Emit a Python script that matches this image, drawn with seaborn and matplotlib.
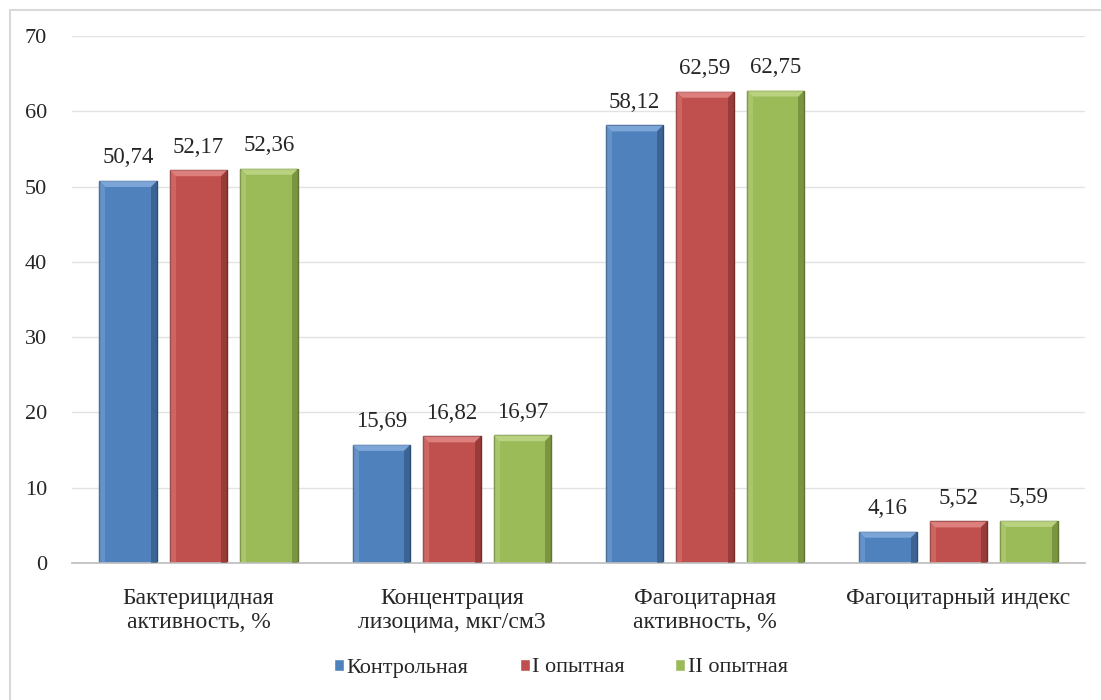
import numpy as np
import pandas as pd
import matplotlib
matplotlib.use("Agg")
import matplotlib.pyplot as plt
import seaborn as sns
from matplotlib.patches import Polygon
from matplotlib.lines import Line2D

categories = ["Бактерицидная\nактивность, %", "Концентрация\nлизоцима, мкг/см3",
              "Фагоцитарная\nактивность, %", "Фагоцитарный индекс"]
groups = ["Контрольная", "I опытная", "II опытная"]
control = [50.74, 15.69, 58.12, 4.16]
exp1 = [52.17, 16.82, 62.59, 5.52]
exp2 = [52.36, 16.97, 62.75, 5.59]
yticks = [0, 10, 20, 30, 40, 50, 60, 70]

colors = ["#4F81BD", "#C0504D", "#9BBB59"]
light_colors = ["#8DB3E2", "#E6908E", "#C4DB8E"]
dark_colors = ["#2C4D75", "#772C2A", "#5F7530"]

df = pd.DataFrame({
    "category": categories * 3,
    "group": [g for g in groups for _ in categories],
    "value": control + exp1 + exp2,
})

sns.set_theme(style="white")
plt.rcParams["font.family"] = ["Liberation Serif", "DejaVu Serif"]

fig = plt.figure(figsize=(11.01, 7.0), dpi=100)
ax = fig.add_axes([72 / 1101, 0.1957, (1085 - 72) / 1101, 0.753])

sns.barplot(data=df, x="category", y="value", hue="group", order=categories,
            hue_order=groups, palette=colors, width=0.835, saturation=1,
            errorbar=None, ax=ax, legend=True)

handles, lbls = ax.get_legend_handles_labels()
if ax.get_legend() is not None:
    ax.get_legend().remove()

ax.set_ylim(0, 70)
ax.set_xlim(-0.5, 3.5)

# pixel -> data conversion for the bevel size
px_x = 4.0 / (1085 - 72)
px_y = 70.0 / 527

for cont, lc, dc in zip(ax.containers, light_colors, dark_colors):
    for bar in cont:
        w = bar.get_width()
        bar.set_x(bar.get_x() + w * 0.092)
        bar.set_width(w * 0.816)
        bar.set_edgecolor(dc)
        bar.set_linewidth(1.0)
        x0, y0, bw, bh = bar.get_x(), bar.get_y(), bar.get_width(), bar.get_height()
        bx = 6 * px_x
        by = min(6 * px_y, bh * 0.25)
        x1, y1 = x0 + bw, y0 + bh
        # bevelled top (light), right side (dark), left side (light)
        ax.add_patch(Polygon([(x0, y1), (x1, y1), (x1 - bx, y1 - by), (x0 + bx, y1 - by)],
                             closed=True, facecolor=lc, alpha=0.75, linewidth=0, zorder=3))
        ax.add_patch(Polygon([(x1, y1), (x1, y0), (x1 - bx, y0), (x1 - bx, y1 - by)],
                             closed=True, facecolor=dc, alpha=0.55, linewidth=0, zorder=3))
        ax.add_patch(Polygon([(x0, y1), (x0, y0), (x0 + bx, y0), (x0 + bx, y1 - by)],
                             closed=True, facecolor=lc, alpha=0.35, linewidth=0, zorder=3))
    labels = [f"{v:.2f}".replace(".", ",") for v in cont.datavalues]
    ax.bar_label(cont, labels=labels, padding=9, fontsize=16.5, color="#262626")

ax.set_yticks(yticks)
ax.set_yticklabels([str(t) for t in yticks], fontsize=16, color="#262626")
ax.tick_params(axis="x", labelsize=17, colors="#262626", length=0, pad=18)
ax.tick_params(axis="y", length=0, pad=18)
ax.set_xlabel("")
ax.set_ylabel("")
ax.yaxis.grid(True, color="#E3E3E3", linewidth=1)
ax.set_axisbelow(True)
for s in ["top", "right", "left"]:
    ax.spines[s].set_visible(False)
ax.spines["bottom"].set_color("#BFBFBF")

fig.legend(handles, lbls, loc="center", bbox_to_anchor=(561 / 1101, 1 - 668 / 700), ncol=3,
           frameon=False, fontsize=16, handlelength=0.45, handleheight=0.45,
           handletextpad=0.1, columnspacing=2.3)

# chart-area border along the top and left edges
fig.add_artist(Line2D([10 / 1101, 1.0], [1 - 10 / 700, 1 - 10 / 700], transform=fig.transFigure,
                      color="#D9D9D9", linewidth=1.5))
fig.add_artist(Line2D([10 / 1101, 10 / 1101], [0.0, 1 - 10 / 700], transform=fig.transFigure,
                      color="#D9D9D9", linewidth=1.5))

fig.savefig("out.png", dpi=100)
